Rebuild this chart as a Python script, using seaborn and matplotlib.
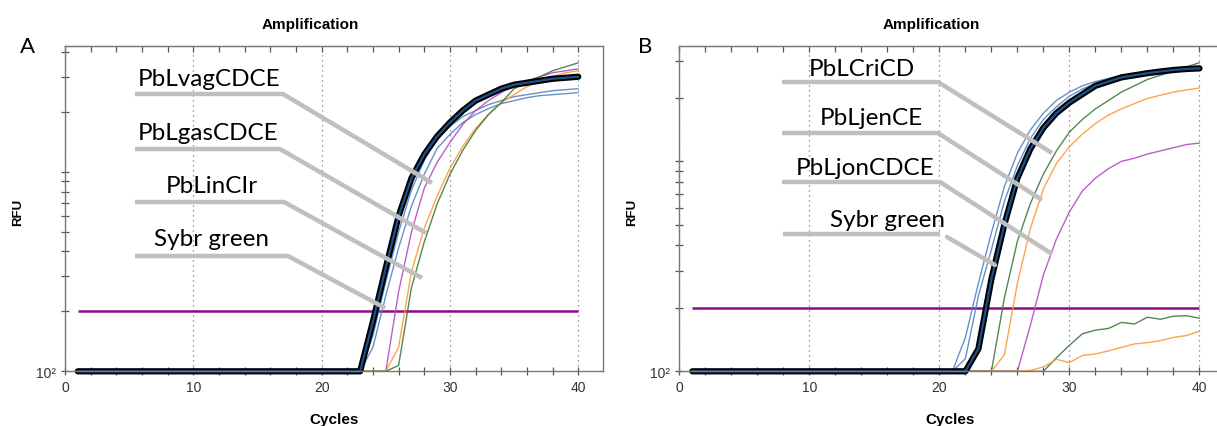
import matplotlib
matplotlib.use("Agg")
import matplotlib.pyplot as plt
from matplotlib import ticker
from matplotlib.lines import Line2D
import numpy as np
import pandas as pd
import seaborn as sns

# ---- data: RFU per cycle (cycles 1..40) ----
cycles = list(range(1, 41))
threshold = 200

# Panel A
a_black = [100] * 23 + [178, 331, 603, 933, 1230, 1514, 1778, 2042, 2291, 2455,
                        2630, 2754, 2818, 2884, 2951, 2985, 3020]
a_blue1 = [100] * 23 + [151, 282, 501, 813, 1148, 1479, 1698, 1905, 2042, 2188,
                        2291, 2399, 2455, 2512, 2570, 2600, 2630]
a_blue2 = [100] * 23 + [132, 240, 417, 676, 977, 1318, 1549, 1778, 1950, 2089,
                        2213, 2291, 2371, 2427, 2455, 2483, 2512]
a_purple = [100] * 25 + [251, 501, 832, 1122, 1413, 1738, 2042, 2291, 2512, 2754,
                         2884, 3020, 3162, 3236, 3311]
a_orange = [100] * 25 + [132, 316, 525, 759, 1047, 1349, 1660, 1950, 2239, 2455,
                         2692, 2884, 3020, 3162, 3236]
a_green = [100] * 25 + [107, 263, 447, 692, 977, 1288, 1622, 1950, 2239, 2630,
                        2818, 3020, 3236, 3388, 3548]

# Panel B
b_black = [100] * 22 + [128, 275, 501, 832, 1148, 1445, 1698, 1905, 2089, 2291,
                        2399, 2512, 2570, 2630, 2679, 2723, 2754, 2773]
b_blue1 = [100] * 21 + [145, 263, 457, 759, 1096, 1413, 1698, 1950, 2138, 2291,
                        2399, 2483, 2570, 2630, 2661, 2692, 2723, 2754, 2786]
b_blue2 = [100] * 21 + [115, 229, 380, 646, 955, 1288, 1585, 1820, 2042, 2213,
                        2344, 2455, 2512, 2570, 2630, 2679, 2723, 2754, 2786]
b_green = [100] * 24 + [224, 417, 631, 871, 1122, 1380, 1585, 1778, 1950, 2138,
                        2291, 2455, 2570, 2692, 2818, 2951]
b_orange = [100] * 24 + [120, 263, 479, 741, 977, 1175, 1349, 1514, 1660, 1778,
                         1884, 1995, 2065, 2138, 2188, 2239]
b_purple = [100] * 26 + [166, 288, 427, 575, 724, 832, 923, 1000, 1035, 1084,
                         1122, 1161, 1202, 1222]
b_green_low = [100] * 28 + [116, 133, 151, 157, 160, 171, 168, 181, 177, 183,
                            184, 179]
b_orange_low = [100] * 26 + [101, 105, 114, 110, 119, 121, 125, 130, 135, 137,
                             140, 145, 148, 155]

labels_a = ["PbLvagCDCE", "PbLgasCDCE", "PbLinCIr", "Sybr green"]
labels_b = ["PbLCriCD", "PbLjenCE", "PbLjonCDCE", "Sybr green"]

BLUE = "#5686c0"
NAVY = "#1d4f8a"
PURPLE = "#b44cc4"
ORANGE = "#ff9a38"
GREEN = "#3f7a3f"
THR = "#8a0a8a"
CALLOUT = "#bfbfbf"

sns.set_style("white")
plt.rcParams["font.family"] = ["Liberation Sans", "DejaVu Sans"]
plt.rcParams["text.color"] = "black"
plt.rcParams["axes.labelcolor"] = "black"

W, H = 1217, 427
fig = plt.figure(figsize=(W / 100, H / 100), dpi=100)
axA = fig.add_axes([65 / W, 1 - 372.3 / H, 538 / W, 325 / H])
axB = fig.add_axes([679.3 / W, 1 - 372.3 / H, 541 / W, 325 / H])


def draw_panel(ax, thin, black, xmax, ymax):
    for vals, col in thin:
        sns.lineplot(x=cycles, y=vals, ax=ax, color=col, lw=1.0, alpha=0.9,
                     clip_on=False)
    sns.lineplot(x=cycles, y=black, ax=ax, color="black", lw=4.5, clip_on=False)
    sns.lineplot(x=cycles, y=black, ax=ax, color=NAVY, lw=1.6, clip_on=False)
    ax.hlines(threshold, cycles[0], cycles[-1], color=THR, lw=1.8, zorder=1)
    ax.set_yscale("log")
    ax.set_xlim(0, xmax)
    ax.set_ylim(100, ymax)
    ax.xaxis.set_major_locator(ticker.MultipleLocator(10))
    ax.xaxis.set_minor_locator(ticker.MultipleLocator(2))
    ax.yaxis.set_major_locator(ticker.FixedLocator([100]))
    ax.yaxis.set_major_formatter(ticker.FixedFormatter(["10²"]))
    ax.yaxis.set_minor_locator(ticker.LogLocator(base=10, subs=np.arange(1, 10)))
    ax.yaxis.set_minor_formatter(ticker.NullFormatter())
    ax.tick_params(which="both", direction="inout", left=True, bottom=True,
                   length=6, width=0.9, color="#555555", labelsize=10,
                   labelcolor="#333333")
    # top ticks point inward only
    top = ax.secondary_xaxis("top")
    top.xaxis.set_major_locator(ticker.MultipleLocator(10))
    top.xaxis.set_minor_locator(ticker.MultipleLocator(2))
    top.tick_params(which="both", direction="in", length=4, width=0.9,
                    color="#555555", labeltop=False)
    top.spines["top"].set_color("#777777")
    ax.grid(axis="x", which="major", linestyle=(0, (1, 3)), color="#777777", lw=0.9)
    for s in ax.spines.values():
        s.set_color("#777777")
        s.set_linewidth(1.0)
    ax.set_xlabel("Cycles", fontsize=11, fontweight="bold", labelpad=13)
    ax.set_ylabel("")


draw_panel(axA, [(a_blue1, BLUE), (a_blue2, BLUE), (a_purple, PURPLE),
                 (a_orange, ORANGE), (a_green, GREEN)], a_black, 41.93, 10 ** 3.633)
draw_panel(axB, [(b_blue1, BLUE), (b_blue2, BLUE), (b_green, GREEN),
                 (b_orange, ORANGE), (b_purple, PURPLE), (b_green_low, GREEN),
                 (b_orange_low, ORANGE)], b_black, 41.6, 10 ** 3.548)


def px(x, y):
    return x / W, 1 - y / H


def callout(text, tx, ty, pts):
    xs, ys = zip(*[px(x, y) for x, y in pts])
    fig.add_artist(Line2D(xs, ys, color=CALLOUT, lw=3.2, solid_capstyle="butt"))
    fx, fy = px(tx, ty)
    fig.text(fx, fy, text, ha="center", va="baseline", fontsize=17.5,
             color="black", family=["Lato", "DejaVu Sans"])


# panel A callouts
callout(labels_a[0], 209, 86, [(135, 95), (283, 95), (432, 184)])
callout(labels_a[1], 208, 140, [(135, 150), (280, 150), (426, 234)])
callout(labels_a[2], 212, 193, [(135, 203), (284, 203), (422, 279)])
callout(labels_a[3], 211, 246, [(135, 257), (288, 257), (385, 309)])

# panel B callouts
callout(labels_b[0], 862, 76, [(782, 83), (938, 83), (1052, 154)])
callout(labels_b[1], 871, 125, [(782, 134), (938, 134), (1042, 201)])
callout(labels_b[2], 865, 175, [(782, 183), (940, 183), (1052, 255)])
callout(labels_b[3], 888, 227, [(783, 235), (940, 235)])
fig.add_artist(Line2D(*zip(*[px(947, 238), px(995, 266)]), color=CALLOUT, lw=3.2))

# titles, axis names, panel letters
for cx, letter, rx in [(310, "A", 28), (931, "B", 645)]:
    fig.text(*px(cx, 25), "Amplification", ha="center", va="center",
             fontsize=11, fontweight="bold")
    fig.text(*px(rx, 47), letter, ha="center", va="center", fontsize=16,
             family=["Lato", "DejaVu Sans"])
fig.text(*px(18, 212), "RFU", rotation=90, ha="center", va="center",
         fontsize=9.5, fontweight="bold")
fig.text(*px(632, 212), "RFU", rotation=90, ha="center", va="center",
         fontsize=9.5, fontweight="bold")

fig.savefig("out.png", dpi=100)
